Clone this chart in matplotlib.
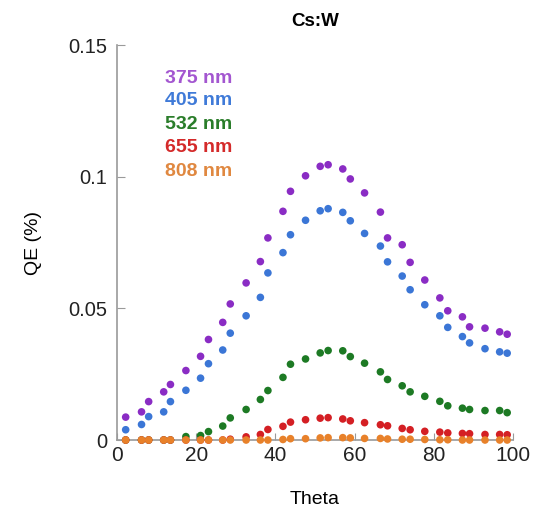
import matplotlib
matplotlib.use("Agg")
import matplotlib.pyplot as plt

plt.rcParams['font.family'] = ['Liberation Sans', 'DejaVu Sans']

theta = [2.2, 6.2, 8.0, 11.8, 13.5, 17.4, 21.1, 23.1, 26.7, 28.6, 32.6,
         36.2, 38.1, 41.9, 43.8, 47.6, 51.3, 53.3, 57.0, 58.9, 62.5, 66.5,
         68.3, 72.0, 74.0, 77.7, 81.5, 83.5, 87.2, 89.0, 92.9, 96.6, 98.5]

qe_375 = [0.0087, 0.0107, 0.0146, 0.0183, 0.0211, 0.0264, 0.0318, 0.0382,
          0.0447, 0.0517, 0.0597, 0.0678, 0.0768, 0.0869, 0.0945, 0.1004,
          0.1040, 0.1046, 0.1030, 0.0992, 0.0939, 0.0866, 0.0768, 0.0742,
          0.0675, 0.0608, 0.0540, 0.0491, 0.0468, 0.0430, 0.0425, 0.0411,
          0.0402]
qe_405 = [0.0039, 0.0059, 0.0089, 0.0107, 0.0146, 0.0189, 0.0235, 0.0290,
          0.0342, 0.0406, 0.0472, 0.0542, 0.0635, 0.0712, 0.0780, 0.0835,
          0.0871, 0.0879, 0.0865, 0.0833, 0.0785, 0.0737, 0.0677, 0.0623,
          0.0571, 0.0514, 0.0472, 0.0428, 0.0393, 0.0369, 0.0347, 0.0335,
          0.0330]
qe_532 = [0.0, 0.0, 0.0, 0.0, 0.0, 0.0013, 0.0017, 0.0032, 0.0053, 0.0084,
          0.0116, 0.0154, 0.0188, 0.0238, 0.0288, 0.0308, 0.0331, 0.0340,
          0.0339, 0.0317, 0.0292, 0.0259, 0.0230, 0.0206, 0.0183, 0.0166,
          0.0147, 0.0130, 0.0121, 0.0116, 0.0112, 0.0112, 0.0104]
qe_655 = [0.0, 0.0, 0.0, 0.0, 0.0, 0.0, 0.0, 0.0, 0.0, 0.0003, 0.0012,
          0.0021, 0.0040, 0.0052, 0.0068, 0.0077, 0.0083, 0.0085, 0.0080,
          0.0073, 0.0066, 0.0058, 0.0054, 0.0044, 0.0039, 0.0033, 0.0030,
          0.0027, 0.0025, 0.0024, 0.0021, 0.0021, 0.0020]
qe_808 = [0.0, 0.0, 0.0, 0.0, 0.0, 0.0, 0.0, 0.0, 0.0, 0.0, 0.0, 0.0, 0.0,
          0.0002, 0.0005, 0.0005, 0.0008, 0.0009, 0.0009, 0.0008, 0.0006,
          0.0006, 0.0004, 0.0003, 0.0003, 0.0002, 0.0001, 0.0001, 0.0, 0.0,
          0.0, 0.0, 0.0]

series = [qe_375, qe_405, qe_532, qe_655, qe_808]
labels = ["375 nm", "405 nm", "532 nm", "655 nm", "808 nm"]
dot_colors = ["#8a2cc4", "#3b76d6", "#1d7a24", "#d41f24", "#e8812a"]
text_colors = ["#a356d0", "#3f7ad8", "#2a7d2a", "#d42a2a", "#e08840"]

fig = plt.figure(figsize=(5.39, 5.12), dpi=100)
ax = fig.add_axes([0.217, 0.1406, 0.735, 0.771])

for vals, c in zip(series, dot_colors):
    ax.scatter(theta, vals, s=30, color=c, edgecolors='none', zorder=3,
               clip_on=False)

ax.set_xlim(0, 100)
ax.set_ylim(0, 0.15)
yt = [0, 0.05, 0.1, 0.15]
ax.set_yticks(yt)
ax.set_yticklabels(["%g" % v for v in yt])
ax.set_xticks([0, 20, 40, 60, 80, 100])

for side in ['top', 'right']:
    ax.spines[side].set_visible(False)
for side in ['left', 'bottom']:
    ax.spines[side].set_color('#9a9a9a')
    ax.spines[side].set_linewidth(1.2)
ax.tick_params(axis='y', direction='in', length=6, color='#9a9a9a',
               labelsize=14.5, labelcolor='#222222', pad=7)
ax.tick_params(axis='x', direction='in', length=5, color='#9a9a9a',
               labelsize=15, labelcolor='#222222', pad=4)

ax.set_title("Cs:W", fontsize=13.5, fontweight='bold', pad=14)
ax.set_xlabel("Theta", fontsize=14, labelpad=19)
ax.set_ylabel("QE (%)", fontsize=14, labelpad=19)

ypos = [0.916, 0.859, 0.800, 0.740, 0.681]
for lab, c, yp in zip(labels, text_colors, ypos):
    ax.text(0.121, yp, lab, transform=ax.transAxes, color=c,
            fontsize=14, fontweight='bold', va='center', ha='left')

fig.savefig("out.png", dpi=100)
